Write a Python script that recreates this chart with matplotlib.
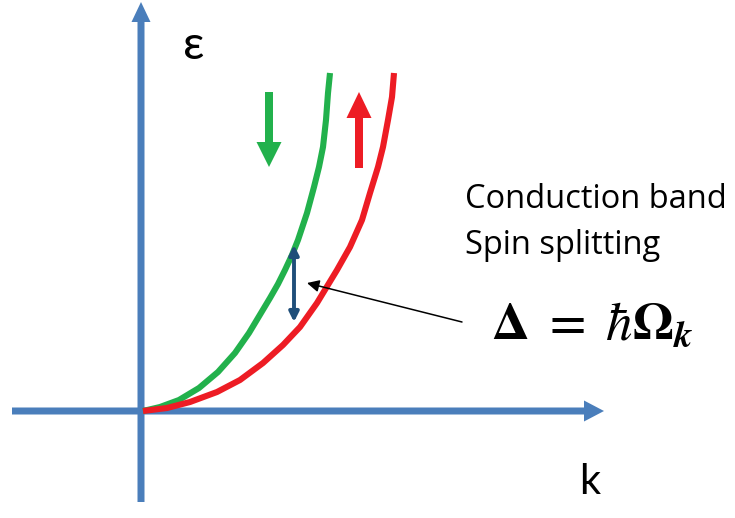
import matplotlib
matplotlib.use("Agg")
import matplotlib.pyplot as plt

plt.rcParams["mathtext.fontset"] = "stix"

# band dispersion, read in axis units (origin at the axis crossing)
k_down = [2, 19, 38, 58, 77, 94, 108, 120, 129, 137, 144, 151, 157, 166, 173, 178, 182, 185, 187, 189]
e_down = [0, 4, 11, 23, 39, 58, 78, 98, 113, 127, 141, 156, 171, 198, 224, 244, 264, 291, 318, 338]
k_up = [2, 26, 49, 76, 99, 122, 142, 159, 176, 196, 209, 221, 229, 237, 242, 247, 251, 253]
e_up = [0, 3, 9, 19, 31, 48, 66, 84, 108, 141, 164, 191, 218, 244, 264, 291, 314, 338]

# splitting marker between the two bands
k_split = 153
e_split_top = 166
e_split_bottom = 89

axis_blue = "#4a7ebb"
green = "#22b14c"
red = "#ed1c24"
navy = "#1f4e79"

fig = plt.figure(figsize=(7.35, 5.18), dpi=100)
ax = fig.add_axes([0, 0, 1, 1])
ax.set_xlim(-141, 594)
ax.set_ylim(-107, 411)
ax.axis("off")

# axes drawn as fat arrows
ax.arrow(-129, 0, 592, 0, width=7, head_width=21, head_length=20,
         length_includes_head=True, color=axis_blue, lw=0)
ax.arrow(0, -91, 0, 500, width=7, head_width=19, head_length=20,
         length_includes_head=True, color=axis_blue, lw=0)

ax.plot(k_down, e_down, color=green, lw=4.4, solid_capstyle="butt", solid_joinstyle="round")
ax.plot(k_up, e_up, color=red, lw=4.4, solid_capstyle="butt", solid_joinstyle="round")

# spin direction arrows
ax.arrow(128, 319, 0, -75, width=8, head_width=25, head_length=25,
         length_includes_head=True, color=green, lw=0)
ax.arrow(218, 243, 0, 76, width=8, head_width=25, head_length=26,
         length_includes_head=True, color=red, lw=0)

ax.annotate("", xy=(k_split, e_split_top), xytext=(k_split, e_split_bottom),
            arrowprops=dict(arrowstyle="<|-|>", color=navy, lw=2.8,
                            mutation_scale=14, shrinkA=0, shrinkB=0))
ax.annotate("", xy=(166, 128), xytext=(321, 89),
            arrowprops=dict(arrowstyle="-|>", color="black", lw=1.1,
                            mutation_scale=18, shrinkA=0, shrinkB=0))

ax.text(53, 365, "ε", fontsize=34, family="Lato", ha="center", va="center")
ax.text(449, -71, "k", fontsize=30, family="Lato", ha="center", va="center")
ax.text(324, 211, "Conduction band", fontsize=23.5, family="Open Sans", ha="left", va="center")
ax.text(324, 166, "Spin splitting", fontsize=23.5, family="Open Sans", ha="left", va="center")

ax.text(451, 86, r"$\mathbf{\Delta}\ =\ \hbar\mathbf{\Omega}_{\mathbfit{k}}$",
        fontsize=38, ha="center", va="center")

fig.savefig("out.png", dpi=100)
